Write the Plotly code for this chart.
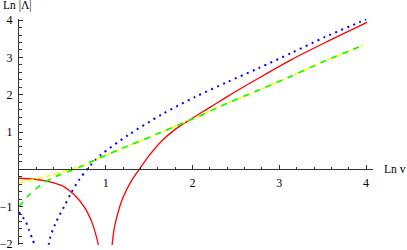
import plotly.graph_objects as go

# ---- data (x = Ln v, y = Ln |Λ|) ----
red_left_x = [0.0, 0.15, 0.29, 0.42, 0.52, 0.63, 0.75, 0.845, 0.91, 0.935]
red_left_y = [-0.24, -0.26, -0.305, -0.38, -0.47, -0.67, -1.0, -1.45, -1.98, -2.3]
red_right_x = [1.055, 1.07, 1.095, 1.14, 1.2, 1.30, 1.387, 1.49, 1.645, 1.80, 1.99, 2.2, 2.4, 2.76, 3.14, 3.53, 4.01]
red_right_y = [-2.47, -2.1, -1.62, -1.17, -0.75, -0.29, 0.0, 0.34, 0.76, 1.07, 1.36, 1.66, 1.95, 2.44, 2.94, 3.40, 3.94]

blue_left_x = [0.0, 0.04, 0.077, 0.115, 0.16, 0.19]
blue_left_y = [-1.15, -1.27, -1.40, -1.63, -1.90, -2.1]
blue_right_x = [0.33, 0.357, 0.42, 0.52, 0.595, 0.69, 0.81, 0.94, 1.26, 1.645, 2.03, 2.41, 2.76, 3.14, 3.53, 3.93, 4.0]
blue_right_y = [-2.2, -1.85, -1.45, -1.0, -0.66, -0.29, 0.07, 0.38, 0.92, 1.47, 1.94, 2.35, 2.71, 3.12, 3.55, 3.95, 4.02]

merged_x = [0.876, 1.26, 1.645, 2.03, 2.4, 2.76, 3.14, 3.53, 3.97]
merged_y = [0.25, 0.63, 1.0, 1.38, 1.77, 2.12, 2.50, 2.91, 3.33]
yellow_x = [0.0, 0.17, 0.33, 0.48, 0.6, 0.72] + merged_x
yellow_y = [-0.36, -0.27, -0.18, -0.09, 0.0, 0.09] + merged_y
green_x = [0.0, 0.115, 0.25, 0.40, 0.56, 0.72] + merged_x
green_y = [-1.0, -0.69, -0.42, -0.22, -0.07, 0.08] + merged_y

x_ticks = [1, 2, 3, 4]
x_ticktext = ["1", "2", "3", "4"]
y_ticks = [-2, -1, 1, 2, 3, 4]
y_ticktext = ["\u22122", "\u22121", "1", "2", "3", "4"]

X_RANGE = [0, 4.08]
Y_RANGE = [-2.03, 4.03]

fig = go.Figure()

def add(x, y, color, width, dash):
    fig.add_trace(go.Scatter(x=x, y=y, mode="lines",
                             line=dict(color=color, width=width, dash=dash,
                                       shape="spline", smoothing=0.8),
                             hoverinfo="skip", showlegend=False))

add(red_left_x, red_left_y, "#ff0000", 1.3, "solid")
add(red_right_x, red_right_y, "#ff0000", 1.3, "solid")
add(blue_left_x, blue_left_y, "#0000ff", 2, "2px,4.5px")
add(blue_right_x, blue_right_y, "#0000ff", 2, "2px,4.5px")
add(yellow_x, yellow_y, "#ffff00", 1.6, "6px,3px")
add(green_x, green_y, "#00ff00", 1.6, "6px,6px")

font = dict(family="Liberation Serif, Times New Roman, serif", size=12, color="black")
label_font = dict(family="Liberation Serif, Times New Roman, serif", size=11.5, color="black")
axis_col = "#333333"

fig.update_layout(
    width=407, height=250,
    margin=dict(l=19, r=34, t=19, b=5, autoexpand=False),
    paper_bgcolor="white", plot_bgcolor="white",
    font=font,
    xaxis=dict(range=X_RANGE, showgrid=False, zeroline=False, automargin=False,
               anchor="free", position=(0 - Y_RANGE[0]) / (Y_RANGE[1] - Y_RANGE[0]),
               showline=True, linecolor=axis_col, linewidth=1,
               tickmode="array", tickvals=x_ticks, ticktext=x_ticktext,
               ticks="inside", ticklen=4, tickcolor=axis_col, tickwidth=1,
               ticklabelstandoff=2, ticklabeloverflow="allow",
               minor=dict(dtick=0.2, tick0=0, ticks="inside", ticklen=2.5,
                          tickcolor=axis_col, tickwidth=1, showgrid=False),
               tickfont=font),
    yaxis=dict(range=Y_RANGE, showgrid=False, zeroline=False, automargin=False,
               showline=True, linecolor=axis_col, linewidth=1,
               tickmode="array", tickvals=y_ticks, ticktext=y_ticktext,
               ticks="inside", ticklen=4, tickcolor=axis_col, tickwidth=1,
               ticklabelstandoff=3, ticklabeloverflow="allow",
               minor=dict(dtick=0.2, tick0=0, ticks="inside", ticklen=2.5,
                          tickcolor=axis_col, tickwidth=1, showgrid=False),
               tickfont=font),
    annotations=[
        dict(text="Ln |\u039b|", xref="paper", yref="paper", x=-0.05, y=1.058,
             xanchor="left", yanchor="middle", showarrow=False, font=label_font),
        dict(text="Ln v", xref="paper", yref="paper", x=1.026, y=0.338,
             xanchor="left", yanchor="middle", showarrow=False, font=label_font),
    ],
)

fig.write_html("out.html", config={"displayModeBar": False},
               post_script="document.body.style.margin='0';document.body.style.padding='0';")
